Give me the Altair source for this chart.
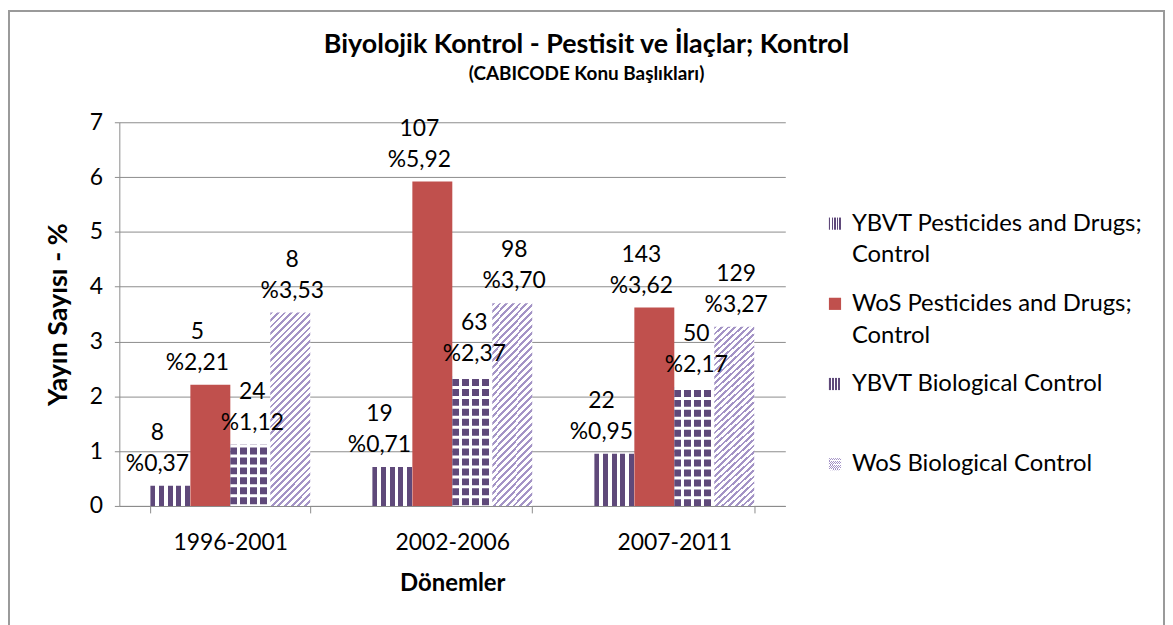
import altair as alt
import pandas as pd

# ---------------- data ----------------
periods = ["1996-2001", "2002-2006", "2007-2011"]
series = [
    "YBVT Pesticides and Drugs; Control",
    "WoS Pesticides and Drugs; Control",
    "YBVT Biological Control",
    "WoS Biological Control",
]
ybvt_pest_pct = [0.37, 0.71, 0.95]
wos_pest_pct = [2.21, 5.92, 3.62]
ybvt_bio_pct = [1.12, 2.37, 2.17]
wos_bio_pct = [3.53, 3.70, 3.27]

ybvt_pest_n = [8, 19, 22]
wos_pest_n = [5, 107, 143]
ybvt_bio_n = [24, 63, 50]
wos_bio_n = [8, 98, 129]

pct_lists = [ybvt_pest_pct, wos_pest_pct, ybvt_bio_pct, wos_bio_pct]
n_lists = [ybvt_pest_n, wos_pest_n, ybvt_bio_n, wos_bio_n]

rows = []
for s, pl, nl in zip(series, pct_lists, n_lists):
    for p, v, n in zip(periods, pl, nl):
        rows.append({
            "period": p,
            "series": s,
            "group": "pest" if "Pesticides" in s else "bio",
            "pct": v,
            "label": f"{n}\n%" + f"{v:.2f}".replace(".", ","),
        })
df = pd.DataFrame(rows)

legend_df = pd.DataFrame({
    "series": series,
    "idx": list(range(len(series))),
    "text": [s.replace("; ", ";\n") for s in series],
})

# ---------------- styles ----------------
PURPLE = "#5F497A"
RED = "#C0504D"
LAV = "#A494C6"
WHITE = "#FFFFFF"
FONT = "Lato"
GRID = "#8C8C8C"


def stripe_stops(n, frac, c1, c2):
    stops = []
    i = 0
    while i / n < 1:
        a = i / n
        b = min((i + frac) / n, 1)
        e = min((i + 1) / n, 1)
        stops += [(a, c1), (b, c1), (b, c2), (e, c2)]
        i += 1
    return stops


def grad(x1, y1, x2, y2, stops):
    s = ",".join(f"{{offset:{o:.4f},color:'{c}'}}" for o, c in stops)
    return {"expr": f"{{gradient:'linear',x1:{x1},y1:{y1},x2:{x2},y2:{y2},stops:[{s}]}}"}


fill_range = [
    grad(0, 0, 1, 0, stripe_stops(4.6, 0.55, PURPLE, WHITE)),
    grad(0, 0, 1, 0, [(0, RED), (1, RED)]),
    grad(0, 0, 1, 0, stripe_stops(4, 0.68, PURPLE, WHITE)),
    grad(0, 0, 0.2396, 1.1575, stripe_stops(35, 0.42, LAV, WHITE)),
]
fill_scale = alt.Scale(domain=series, range=fill_range)

base = alt.Chart(df)

x_enc = alt.X(
    "period:N",
    sort=periods,
    scale=alt.Scale(paddingInner=0.28, paddingOuter=0.14),
    axis=alt.Axis(
        title="Dönemler",
        labelAngle=0,
        labelFont=FONT,
        labelFontSize=23,
        labelColor="#000",
        labelPadding=19,
        tickBand="extent",
        tickSize=7,
        tickColor=GRID,
        domainColor=GRID,
        titleFont=FONT,
        titleFontSize=24,
        titleFontWeight="bold",
        titleColor="#000",
        titlePadding=17,
        grid=False,
    ),
)
xo_enc = alt.XOffset("series:N", sort=series, scale=alt.Scale(domain=series))
y_enc = alt.Y(
    "pct:Q",
    scale=alt.Scale(domain=[0, 7], nice=False),
    axis=alt.Axis(
        title="Yayın Sayısı - %",
        values=[0, 1, 2, 3, 4, 5, 6, 7],
        format="d",
        labelFont=FONT,
        labelFontSize=23,
        labelColor="#000",
        labelPadding=12,
        tickSize=5,
        tickColor=GRID,
        domainColor=GRID,
        gridColor=GRID,
        grid=True,
        titleFont=FONT,
        titleFontSize=27,
        titleFontWeight="bold",
        titleColor="#000",
        titlePadding=17,
    ),
)

bars = base.mark_bar().encode(
    x=x_enc,
    xOffset=xo_enc,
    y=y_enc,
    fill=alt.Fill("series:N", scale=fill_scale, legend=None),
)

dots = base.transform_filter(
    alt.datum.series == "YBVT Biological Control"
).mark_rule(stroke=WHITE, strokeWidth=40, strokeDash=[3, 7], strokeCap="butt").encode(
    x=alt.X("period:N", sort=periods),
    xOffset=xo_enc,
    y="pct:Q",
    y2=alt.datum(0),
)


def label_layer(group, dx):
    return base.transform_filter(alt.datum.group == group).mark_text(
        baseline="alphabetic", dy=-46, dx=dx, lineBreak="\n", lineHeight=31,
        font=FONT, fontSize=23, color="#000",
    ).encode(
        x=alt.X("period:N", sort=periods),
        xOffset=xo_enc,
        y="pct:Q",
        text="label:N",
    )


labels_pest = label_layer("pest", -13)
labels_bio = label_layer("bio", 2)

main = alt.layer(bars, dots, labels_pest, labels_bio)

# ---- legend (drawn as marks so that wrapped labels get proper line spacing) ----
leg_y = alt.Y("idx:O", scale=alt.Scale(domain=[0, 1, 2, 3], range=[102, 344], padding=0), axis=None)
leg_sym = alt.Chart(legend_df).mark_square(size=150, strokeWidth=0, opacity=1).encode(
    x=alt.value(720),
    y=leg_y,
    fill=alt.Fill("series:N", scale=fill_scale, legend=None),
)
leg_txt = alt.Chart(legend_df).mark_text(
    align="left", baseline="middle", lineBreak="\n", lineHeight=32,
    font=FONT, fontSize=24, color="#000",
).encode(
    x=alt.value(737),
    y=leg_y,
    text="text:N",
)
legend = alt.layer(leg_sym, leg_txt)

frame = alt.Chart(alt.Data(values=[{}])).mark_rect(
    fillOpacity=0, stroke="#9A9A9A", strokeWidth=2
).encode(
    x=alt.value(-111), x2=alt.value(1051),
    y=alt.value(-112), y2=alt.value(530),
)

chart = alt.layer(frame, main, legend).resolve_scale(y="independent").properties(
    width=670,
    height=386,
    padding=0,
    title=alt.TitleParams(
        text="Biyolojik Kontrol - Pestisit ve İlaçlar; Kontrol",
        subtitle="(CABICODE  Konu Başlıkları)",
        font=FONT,
        fontSize=27,
        fontWeight="bold",
        color="#000",
        subtitleFont=FONT,
        subtitleFontSize=19,
        subtitleFontWeight="bold",
        subtitleColor="#000",
        subtitlePadding=6,
        anchor="middle",
        frame="group",
        dx=135,
        offset=-75,
    ),
).configure_view(stroke=None)

chart.save("out.html", embed_options={"renderer": "svg", "actions": False})
